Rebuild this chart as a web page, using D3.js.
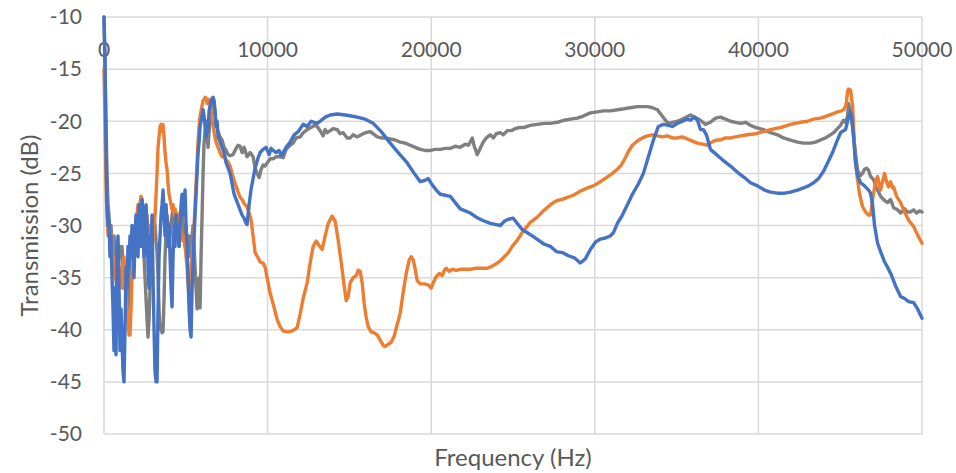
<!DOCTYPE html>
<html lang="en">
<head>
<meta charset="UTF-8">
<title>Transmission vs Frequency</title>
<script src="https://d3js.org/d3.v7.min.js"></script>
<style>
  body { margin: 0; background: #fff; }
  svg { display: block; font-family: Lato, "Open Sans", sans-serif; }
  .tick-label { fill: #595959; font-size: 21px; }
  .axis-title { fill: #595959; font-size: 24px; }
  .grid line { stroke: #d9d9d9; stroke-width: 1.5; }
</style>
</head>
<body>
<svg width="956" height="473"></svg>
<script>
// tick values
const xTicks = [0, 10000, 20000, 30000, 40000, 50000];
const yTicks = [-10, -15, -20, -25, -30, -35, -40, -45, -50];

// [frequency Hz, transmission dB]
const graySeries = [
  [0,-10],[61,-15],[122,-20],[184,-25],[245,-28],[306,-29],[367,-31],[428,-30],[489,-32],[551,-33],
  [612,-31],[673,-33],[734,-35],[795,-37],[856,-35],[918,-33],[979,-32],[1040,-33],[1101,-32],[1162,-34],
  [1223,-36],[1285,-35.2],[1346,-37],[1407,-38.5],[1468,-38],[1529,-36],[1590,-33],[1652,-31],[1713,-32],[1774,-30.5],
  [1835,-31],[1896,-30],[1957,-30.6],[2019,-29.6],[2080,-30.4],[2141,-31],[2202,-32],[2263,-31],[2324,-30],[2386,-29.5],
  [2447,-33],[2508,-35],[2569,-37],[2630,-39],[2691,-40.7],[2753,-39],[2814,-36],[2875,-34],[2936,-32],[2997,-30],
  [3059,-29],[3120,-30],[3181,-31.5],[3242,-32.5],[3303,-35],[3364,-38],[3426,-40],[3487,-39.5],[3548,-40.3],[3609,-40.2],
  [3670,-37],[3731,-33],[3793,-30.5],[3854,-29],[3915,-30],[3976,-32],[4037,-31],[4098,-30],[4160,-29],[4221,-28.5],
  [4282,-29.5],[4343,-30],[4404,-31],[4465,-30],[4527,-31],[4588,-32],[4649,-30],[4710,-31],[4771,-29],[4832,-30],
  [4894,-31],[4955,-32],[5016,-30],[5077,-32],[5138,-33],[5199,-31],[5261,-32],[5322,-33],[5383,-31],[5444,-30],
  [5505,-32],[5566,-34],[5628,-36],[5689,-38],[5750,-36.5],[5811,-35],[5872,-37.9],[5933,-33],[5995,-29],[6056,-25],
  [6117,-22],[6178,-21],[6239,-20],[6301,-21.5],[6362,-22.5],[6423,-21],[6484,-19.5],[6545,-18.5],[6606,-18],[6668,-17.9],
  [6729,-18.3],[6790,-19.5],[6851,-20.3],[6973,-21],[7096,-21.5],[7218,-21.8],[7340,-22.5],[7463,-22.8],[7585,-23.2],[7707,-23.3],
  [7890,-23.2],[8074,-22.6],[8197,-22.3],[8319,-22.4],[8441,-23],[8564,-22.5],[8747,-23.4],[8931,-23],[9114,-23.4],[9237,-24.5],
  [9359,-25],[9481,-25.4],[9604,-24.6],[9726,-24.2],[9848,-24.3],[9971,-24],[10154,-23.6],[10338,-23.6],[10521,-23.4],[10766,-23.4],
  [10949,-23.5],[11133,-22.7],[11378,-22.3],[11561,-22.1],[11745,-21.6],[11989,-21.5],[12173,-21.1],[12418,-20.8],[12662,-20.6],[12846,-20.4],
  [13029,-20.5],[13213,-20.9],[13397,-21.4],[13519,-20.8],[13641,-21.1],[13825,-20.9],[14008,-20.7],[14253,-20.8],[14436,-21.2],[14620,-21.1],
  [14864,-21.6],[15048,-21.6],[15231,-21.3],[15476,-21.5],[15721,-21.3],[15966,-21.1],[16271,-21],[16455,-21.2],[16699,-21.5],[16944,-21.6],
  [17189,-21.6],[17495,-21.7],[17800,-21.8],[18106,-22],[18412,-22.1],[18718,-22.3],[19024,-22.5],[19330,-22.7],[19636,-22.8],[19941,-22.8],
  [20247,-22.7],[20553,-22.7],[20859,-22.6],[21165,-22.6],[21470,-22.4],[21776,-22.5],[22082,-22.2],[22266,-22.3],[22388,-22],[22510,-21.6],
  [22633,-22.4],[22816,-23.2],[23000,-22.6],[23183,-22],[23367,-21.6],[23612,-21.3],[23795,-21.6],[23979,-21.2],[24223,-21.1],[24407,-21.3],
  [24652,-20.9],[24896,-20.9],[25141,-20.7],[25386,-20.6],[25630,-20.6],[26058,-20.4],[26487,-20.3],[26915,-20.2],[27282,-20.2],[27710,-20.1],
  [28138,-19.9],[28505,-19.8],[28933,-19.7],[29300,-19.5],[29728,-19.2],[30156,-19.1],[30523,-19],[30952,-19],[31380,-18.9],[31808,-18.8],
  [32175,-18.7],[32603,-18.6],[32971,-18.6],[33215,-18.6],[33521,-18.7],[33827,-18.9],[34072,-19.4],[34316,-19.9],[34500,-20.2],[34745,-20.1],
  [35051,-20],[35357,-19.8],[35601,-19.6],[35846,-19.4],[36091,-19.6],[36457,-19.9],[36763,-20.3],[37069,-20.1],[37375,-19.7],[37681,-19.6],
  [37987,-19.8],[38292,-20],[38598,-20.1],[38904,-20.2],[39210,-20.1],[39516,-20.4],[39822,-20.6],[40311,-20.8],[40739,-21.1],[41167,-21.3],
  [41534,-21.6],[41963,-21.8],[42391,-22],[42758,-22.1],[43186,-22.1],[43492,-22],[43798,-21.8],[44104,-21.6],[44410,-21.3],[44593,-21.1],
  [44776,-20.8],[45021,-20.4],[45205,-19.9],[45327,-20.1],[45450,-19.5],[45511,-18.3],[45572,-18.8],[45633,-19.2],[45756,-20.5],[45878,-22.3],
  [46061,-24.7],[46245,-25.2],[46367,-25],[46489,-24.6],[46612,-24.5],[46734,-24.7],[46856,-25.3],[47040,-25.6],[47223,-26.4],[47468,-27.2],
  [47713,-27.6],[47896,-27.8],[48080,-27.5],[48263,-28.3],[48508,-28.5],[48692,-28.8],[48936,-28.4],[49120,-28.7],[49303,-28.7],[49487,-28.5],
  [49670,-28.8],[49854,-28.6],[50000,-28.7]
];

const orangeSeries = [
  [0,-15],[61,-20],[122,-26],[184,-29],[245,-31],[306,-30],[367,-32],[428,-33],[489,-31],[551,-34],
  [612,-33],[673,-35],[734,-35.2],[795,-34],[856,-36],[918,-35],[979,-35.2],[1040,-34],[1101,-36],[1162,-34],
  [1223,-33],[1285,-35],[1346,-37],[1407,-38],[1468,-39],[1529,-40.5],[1590,-40.5],[1652,-38],[1713,-35],[1774,-34],
  [1835,-32],[1896,-31],[1957,-30],[2019,-29],[2080,-28],[2141,-28.5],[2202,-27.8],[2263,-27.2],[2324,-27.5],[2386,-28.6],
  [2447,-30],[2508,-29],[2569,-30.5],[2630,-29],[2691,-31],[2753,-30],[2814,-32],[2875,-31],[2936,-30],[2997,-31.5],
  [3059,-30],[3120,-29],[3181,-27],[3242,-25],[3303,-22.5],[3364,-21.5],[3426,-20.5],[3487,-20.3],[3548,-21],[3609,-20.3],
  [3670,-21.5],[3731,-23],[3793,-24],[3854,-24.6],[3915,-26],[3976,-27],[4037,-27.5],[4098,-28],[4160,-28.5],[4221,-28],
  [4282,-29],[4343,-28.4],[4404,-29.5],[4465,-28.8],[4527,-29.5],[4588,-30],[4649,-29.5],[4710,-30.5],[4771,-31],[4832,-31.5],
  [4894,-31],[4955,-32],[5016,-33],[5077,-34],[5138,-35.5],[5199,-37],[5261,-36],[5322,-34],[5383,-33],[5444,-32],
  [5505,-30],[5566,-28],[5628,-26],[5689,-24],[5750,-22],[5811,-20.5],[5872,-19.5],[5995,-18.5],[6056,-18],[6117,-17.9],
  [6178,-17.7],[6239,-17.8],[6301,-18.3],[6362,-17.9],[6423,-18.1],[6484,-18.2],[6545,-19],[6606,-19.8],[6668,-20.5],[6729,-21],
  [6790,-21.6],[6851,-22],[6973,-22.5],[7096,-23],[7218,-23.4],[7340,-23.4],[7463,-23.7],[7585,-23.9],[7707,-24.3],[7830,-25],
  [7952,-25.7],[8074,-26.2],[8197,-26.8],[8319,-27.3],[8441,-27.5],[8564,-27.9],[8747,-28.2],[8870,-28.8],[8992,-29.5],[9114,-31],
  [9237,-32.6],[9420,-33.1],[9543,-33.5],[9726,-33.6],[9848,-34],[9971,-35],[10154,-36.5],[10338,-37.5],[10582,-39],[10766,-39.7],
  [10949,-40.1],[11194,-40.2],[11378,-40.2],[11622,-40],[11806,-39.8],[11989,-38.5],[12173,-37],[12418,-35.5],[12601,-33.6],[12785,-32],
  [12968,-31.5],[13091,-31.8],[13336,-32.3],[13519,-31],[13703,-29.8],[13947,-29.1],[14131,-29.6],[14314,-31.4],[14498,-33.5],[14681,-35.8],
  [14803,-37.2],[14926,-36.8],[15048,-35.5],[15231,-35],[15415,-34.8],[15537,-34.3],[15660,-34.4],[15782,-35.5],[15905,-37.5],[16027,-38.8],
  [16149,-39.7],[16333,-40.2],[16516,-40.3],[16699,-40.5],[16883,-41],[17067,-41.5],[17189,-41.6],[17372,-41.4],[17556,-41.2],[17739,-40.6],
  [17923,-39.5],[18106,-38.4],[18290,-36.4],[18473,-34.6],[18657,-33.3],[18779,-33],[18902,-33.3],[19024,-34.2],[19146,-35.3],[19330,-35.6],
  [19574,-35.6],[19819,-35.7],[20002,-36],[20124,-35.5],[20308,-34.9],[20492,-34.6],[20676,-34.8],[20798,-34.3],[20920,-34.1],[21104,-34.4],
  [21287,-34.2],[21532,-34.3],[21776,-34.2],[22082,-34.2],[22388,-34.2],[22755,-34.1],[23122,-34.1],[23428,-34.1],[23734,-33.9],[24039,-33.6],
  [24223,-33.4],[24468,-33],[24713,-32.6],[24957,-32],[25263,-31.4],[25508,-30.8],[25753,-30.3],[26058,-29.7],[26487,-29.2],[26854,-28.6],
  [27221,-28.1],[27465,-27.8],[27710,-27.6],[28016,-27.5],[28322,-27.3],[28689,-27.1],[29117,-26.7],[29545,-26.4],[29912,-26.2],[30340,-25.8],
  [30707,-25.4],[31074,-25],[31380,-24.6],[31625,-24.2],[31869,-23.5],[32053,-22.9],[32298,-22.3],[32603,-21.9],[32909,-21.6],[33215,-21.4],
  [33521,-21.3],[33827,-21.4],[34133,-21.5],[34439,-21.4],[34745,-21.6],[35051,-21.6],[35357,-21.5],[35663,-21.7],[35968,-21.9],[36274,-22.1],
  [36580,-22.2],[36886,-22.3],[37069,-22.1],[37252,-21.9],[37497,-21.8],[37681,-21.8],[37987,-21.6],[38292,-21.6],[38598,-21.5],[38904,-21.4],
  [39332,-21.3],[39822,-21.2],[40311,-21],[40739,-20.8],[41350,-20.6],[41963,-20.3],[42575,-20.1],[43003,-20],[43369,-19.8],[43798,-19.7],
  [44165,-19.5],[44532,-19.3],[44838,-19.1],[45082,-19],[45205,-18.9],[45327,-18.6],[45389,-18.1],[45450,-17.1],[45511,-16.9],[45572,-17.2],
  [45633,-17],[45694,-17.8],[45756,-18.5],[45817,-20.5],[45878,-22.4],[45939,-24],[46061,-25.6],[46184,-27],[46367,-28.2],[46550,-28.7],
  [46734,-29],[46856,-29],[46979,-27.5],[47040,-26.9],[47162,-25.8],[47284,-25.3],[47407,-26.2],[47468,-26.6],[47590,-25.8],[47713,-25],
  [47835,-25.8],[47957,-26.3],[48080,-25.8],[48202,-26.4],[48263,-26.3],[48447,-27.2],[48692,-27.8],[48936,-28.7],[49181,-29.5],[49487,-30.1],
  [49731,-30.9],[50000,-31.7]
];

const blueSeries = [
  [0,-10],[61,-14],[122,-22],[184,-28],[245,-30],[306,-29.5],[367,-33],[428,-31],[489,-35],[551,-38],
  [612,-42],[673,-36],[734,-42.4],[795,-33],[856,-31],[918,-36],[979,-42],[1040,-38],[1101,-41],[1162,-44],
  [1223,-45],[1285,-40],[1346,-34],[1407,-36],[1468,-32],[1529,-34],[1590,-31],[1652,-33],[1713,-30],[1774,-32],
  [1835,-35],[1896,-31],[1957,-29],[2019,-31],[2080,-33],[2141,-28],[2202,-30],[2263,-32],[2324,-27.5],[2386,-29],
  [2447,-33],[2508,-31],[2569,-28],[2630,-30],[2691,-34],[2753,-36],[2814,-31],[2875,-33],[2936,-29],[2997,-35],
  [3059,-40],[3120,-44],[3181,-45],[3242,-45],[3303,-38],[3364,-33],[3426,-31],[3487,-29],[3548,-28],[3609,-26.6],
  [3670,-29],[3731,-31],[3793,-28],[3854,-30],[3915,-32],[3976,-30],[4037,-33],[4098,-36],[4160,-37.8],[4221,-33],
  [4282,-30],[4343,-32],[4404,-29],[4465,-31],[4527,-30],[4588,-32],[4649,-30],[4710,-28],[4771,-27],[4832,-29],
  [4894,-28],[4955,-26.6],[5016,-30],[5077,-32],[5138,-35],[5199,-38],[5261,-40],[5322,-40.7],[5383,-36],[5444,-34],
  [5505,-31],[5566,-29],[5628,-27],[5689,-25],[5750,-23],[5811,-22],[5872,-20.5],[5995,-19.5],[6056,-18.9],[6117,-19.5],
  [6178,-20.5],[6239,-21.5],[6301,-20],[6362,-21],[6423,-19],[6484,-18.5],[6545,-18],[6606,-17.8],[6668,-17.7],[6729,-18],
  [6790,-19],[6851,-20.5],[6912,-20],[6973,-21.5],[7096,-22],[7218,-22.5],[7340,-23],[7463,-24],[7585,-24.5],[7707,-25],
  [7830,-26],[7952,-27],[8074,-27.5],[8197,-28],[8319,-28.5],[8441,-29],[8564,-29.3],[8686,-29.8],[8747,-29.9],[8870,-28],
  [8992,-26.5],[9114,-25.5],[9237,-24.5],[9420,-23.5],[9543,-23],[9726,-22.7],[9910,-22.5],[10093,-23.2],[10215,-22.6],[10338,-22.8],
  [10521,-23],[10705,-22.8],[10827,-23.3],[10949,-23],[11133,-22.5],[11378,-22],[11622,-21.3],[11867,-21],[12173,-20.3],[12418,-20.5],
  [12662,-20],[13029,-20.2],[13213,-20],[13519,-19.6],[13825,-19.4],[14253,-19.3],[14742,-19.4],[15109,-19.5],[15476,-19.6],[15966,-19.8],
  [16455,-20.2],[16944,-21],[17495,-22.1],[17984,-23],[18535,-24],[18963,-25],[19330,-25.8],[19574,-25.7],[19819,-25.5],[20063,-26.1],
  [20308,-26.6],[20553,-27],[20859,-27.1],[21165,-27.2],[21470,-27.8],[21776,-28.4],[22082,-28.6],[22388,-28.8],[22755,-29.2],[23122,-29.5],
  [23612,-29.8],[23917,-29.9],[24223,-30],[24468,-29.6],[24713,-29.4],[25018,-29.3],[25263,-29.8],[25569,-30.4],[25875,-30.7],[26181,-31],
  [26548,-31.4],[26915,-31.8],[27282,-32],[27649,-32.5],[28016,-32.6],[28383,-32.9],[28750,-33.1],[29117,-33.6],[29422,-33.2],[29728,-32.3],
  [30034,-31.6],[30340,-31.3],[30646,-31.2],[30952,-31],[31135,-30.7],[31380,-29.8],[31686,-29],[31992,-28],[32298,-27],[32665,-26],
  [32971,-25],[33276,-23.4],[33582,-21.8],[33888,-20.5],[34194,-20.3],[34500,-20.4],[34745,-20.5],[35051,-20.2],[35357,-20],[35601,-19.8],
  [35846,-19.9],[36091,-19.6],[36274,-19.9],[36457,-20.8],[36641,-20.8],[36824,-21.3],[37069,-22.7],[37436,-23.2],[37803,-23.7],[38292,-24.3],
  [38720,-24.9],[39149,-25.4],[39516,-25.9],[39944,-26.2],[40372,-26.6],[40739,-26.8],[41167,-26.9],[41596,-26.9],[41963,-26.8],[42391,-26.6],
  [42758,-26.4],[43064,-26.2],[43369,-25.9],[43675,-25.5],[43981,-24.8],[44226,-24],[44532,-23],[44776,-22],[45021,-21.1],[45205,-20.9],
  [45327,-20.8],[45450,-20],[45572,-19.3],[45633,-19.1],[45694,-19.5],[45817,-21.5],[45939,-24],[46061,-25.2],[46245,-25.9],[46489,-26.2],
  [46734,-26.6],[46856,-26.9],[46979,-28],[47101,-30],[47284,-31.7],[47468,-32.5],[47713,-33.5],[47896,-34],[48141,-34.8],[48386,-35.8],
  [48692,-36.8],[48936,-37],[49181,-37.3],[49487,-37.4],[49731,-38],[49915,-38.6],[50000,-38.9]
];

const series = [
  { data: graySeries, color: "#7f7f7f" },
  { data: orangeSeries, color: "#ed7d31" },
  { data: blueSeries, color: "#4472c4" }
];

const svg = d3.select("svg");
const margin = { top: 17, right: 34, bottom: 39, left: 104 };
const width = +svg.attr("width");
const height = +svg.attr("height");

const x = d3.scaleLinear()
  .domain([0, 50000])
  .range([margin.left, width - margin.right]);

const y = d3.scaleLinear()
  .domain([-10, -50])
  .range([margin.top, height - margin.bottom]);

// gridlines
const grid = svg.append("g").attr("class", "grid");
grid.selectAll(".h")
  .data(yTicks)
  .enter().append("line")
  .attr("x1", x(0)).attr("x2", x(50000))
  .attr("y1", d => y(d)).attr("y2", d => y(d));
grid.selectAll(".v")
  .data(xTicks)
  .enter().append("line")
  .attr("x1", d => x(d)).attr("x2", d => x(d))
  .attr("y1", y(-10)).attr("y2", y(-50));

// y tick labels
svg.append("g").selectAll("text")
  .data(yTicks)
  .enter().append("text")
  .attr("class", "tick-label")
  .attr("x", margin.left - 22)
  .attr("y", d => y(d))
  .attr("dy", "0.35em")
  .attr("text-anchor", "end")
  .text(d => d);

// x tick labels sit under the top axis (axis crosses at -10)
svg.append("g").selectAll("text")
  .data(xTicks)
  .enter().append("text")
  .attr("class", "tick-label")
  .attr("x", d => x(d))
  .attr("y", y(-10) + 40)
  .attr("text-anchor", "middle")
  .text(d => d);

// lines
const line = d3.line()
  .x(d => x(d[0]))
  .y(d => y(d[1]));

svg.append("g").selectAll("path")
  .data(series)
  .enter().append("path")
  .attr("d", d => line(d.data))
  .attr("fill", "none")
  .attr("stroke", d => d.color)
  .attr("stroke-width", 3.4)
  .attr("stroke-linejoin", "round")
  .attr("stroke-linecap", "round");

// axis titles
svg.append("text")
  .attr("class", "axis-title")
  .attr("x", (x(0) + x(50000)) / 2)
  .attr("y", height - 7)
  .attr("text-anchor", "middle")
  .text("Frequency (Hz)");

svg.append("text")
  .attr("class", "axis-title")
  .attr("transform", `translate(38, ${(y(-10) + y(-50)) / 2}) rotate(-90)`)
  .attr("text-anchor", "middle")
  .text("Transmission (dB)");
</script>
</body>
</html>
